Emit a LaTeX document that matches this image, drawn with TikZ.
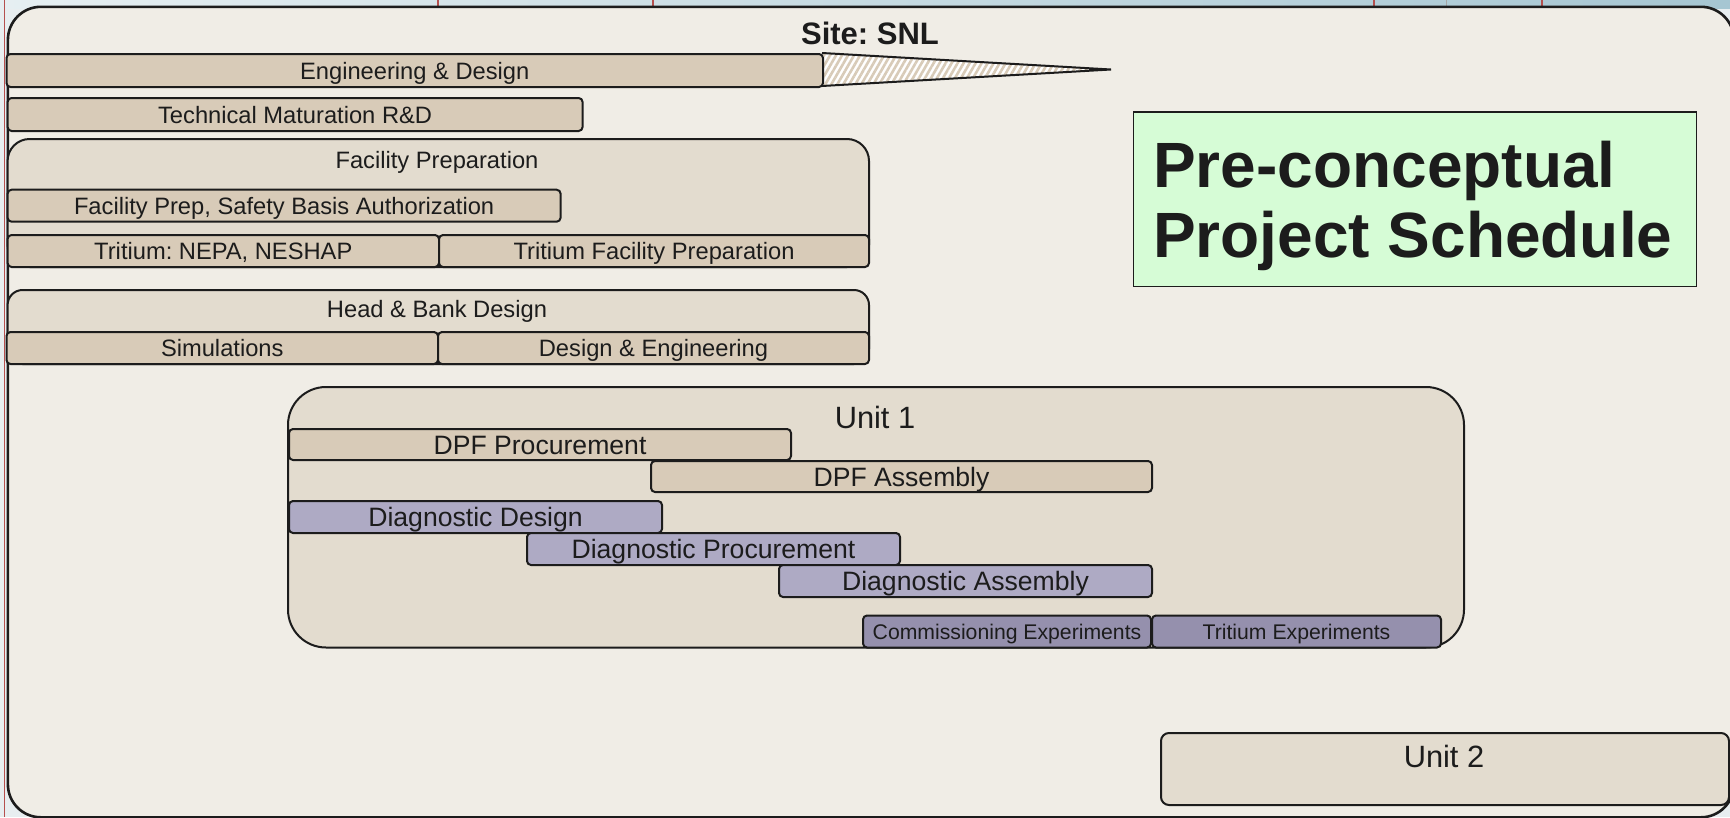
\documentclass[tikz,border=0pt]{standalone}
\usepackage{fontspec}
\setmainfont{Liberation Sans}
\usetikzlibrary{patterns.meta}
\definecolor{pagebg}{HTML}{E8EEF0}
\definecolor{outerfill}{HTML}{F0EDE6}
\definecolor{groupfill}{HTML}{E3DCCF}
\definecolor{tanbar}{HTML}{D8CBB8}
\definecolor{lavbar}{HTML}{AEAAC4}
\definecolor{purpbar}{HTML}{9590AD}
\definecolor{greenbox}{HTML}{D6FCD6}
\definecolor{ink}{HTML}{1C1C1C}
\definecolor{redline}{HTML}{B5504E}
\definecolor{stripL}{HTML}{E6EFF2}
\definecolor{stripR}{HTML}{A6C6D2}
\frenchspacing
\tikzset{
  barbase/.style={draw=ink, line width=2pt, rounded corners=4pt, anchor=north west,
    inner sep=0pt, text=ink, text depth=0pt},
  tbar/.style={barbase, fill=tanbar, text height=17pt, font=\fontsize{23.7}{28}\selectfont},
  ubar/.style={barbase, fill=tanbar, text height=19pt, font=\fontsize{26.6}{30}\selectfont},
  lbar/.style={barbase, fill=lavbar, text height=19pt, font=\fontsize{26.6}{30}\selectfont},
  pbar/.style={barbase, fill=purpbar, text height=15.2pt, font=\fontsize{21.2}{25}\selectfont},
  grp/.style={draw=ink, line width=2pt, fill=groupfill, anchor=north west, inner sep=0pt},
  grptitle/.style={text=ink, inner sep=0pt, text height=17pt, text depth=0pt, font=\fontsize{23.7}{28}\selectfont},
  unittitle/.style={text=ink, inner sep=0pt, text height=22pt, text depth=0pt, font=\fontsize{30.8}{34}\selectfont},
}
\begin{document}
\frenchspacing
\begin{tikzpicture}[x=1pt, y=-1pt]
\useasboundingbox (0,0) rectangle (1730,817);
\fill[pagebg] (0,0) rectangle (1730,817);
\shade[left color=stripL, right color=stripR] (0,0) rectangle (1730,8);
\foreach \xx in {438,653,1374,1542} \draw[redline, line width=1.2pt] (\xx,0) -- (\xx,8);
\draw[gray!70, line width=1pt] (1446,0) -- (1446,8);
\draw[redline, line width=1.6pt] (4.5,0) -- (4.5,817);
% outer box
\node[draw=ink, line width=2.6pt, fill=outerfill, rounded corners=33pt, anchor=north west,
  inner sep=0pt, minimum width=1726pt, minimum height=810.5pt] (outer) at (6.6,5.5) {};
\node[text=ink, inner sep=0pt, text height=22.2pt, text depth=0pt,
  font=\bfseries\fontsize{31}{34}\selectfont] (site) at (870,33) {Site: SNL};
% engineering & design with hatched tail
\coordinate (tip) at (1111,69.5);
\coordinate (tailtop) at (822,53);
\coordinate (tailbot) at (822,86);
\fill[white] (tailtop) -- (tip) -- (tailbot) -- cycle;
\path[pattern={Lines[angle=60,distance=5.2pt,line width=2.6pt]}, pattern color=tanbar]
  (tailtop) -- (tip) -- (tailbot) -- cycle;
\draw[ink, line width=2pt, line join=miter] (tailtop) -- (tip) -- (tailbot);
\node[tbar, minimum width=816.5pt, minimum height=33pt] (eng) at (5.5,53) {Engineering \& Design};
\node[tbar, minimum width=575pt, minimum height=33pt] (tech) at (6.6,97) {Technical Maturation R\&D};
% facility preparation group
\node[grp, rounded corners=22pt, minimum width=861.4pt, minimum height=128pt] (fp) at (6.6,138) {};
\node[grptitle] (fptitle) at (437,160) {Facility Preparation};
\node[tbar, minimum width=553pt, minimum height=32pt] (fpsba) at (6.6,188.7) {Facility Prep, Safety Basis Authorization};
\node[tbar, minimum width=431.4pt, minimum height=32pt] (nepa) at (6.6,234) {Tritium: NEPA, NESHAP};
\node[tbar, minimum width=430pt, minimum height=32pt] (tfp) at (438,234) {Tritium Facility Preparation};
% head & bank group
\node[grp, rounded corners=15pt, minimum width=861.4pt, minimum height=74pt] (hb) at (6.6,289) {};
\node[grptitle] (hbtitle) at (437,309) {Head \& Bank Design};
\node[tbar, minimum width=431.5pt, minimum height=32pt] (sim) at (5.5,331) {Simulations};
\node[tbar, minimum width=431pt, minimum height=32pt] (de) at (437,331) {Design \& Engineering};
% unit 1
\node[grp, rounded corners=38pt, minimum width=1176pt, minimum height=260.5pt] (u1) at (287,386) {};
\node[unittitle] (u1title) at (875,417) {Unit 1};
\node[ubar, minimum width=502pt, minimum height=31pt] (dpfp) at (288,428) {DPF Procurement};
\node[ubar, minimum width=501pt, minimum height=31pt] (dpfa) at (650,460) {DPF Assembly};
\node[lbar, minimum width=373pt, minimum height=32pt] (dd) at (288,500) {Diagnostic Design};
\node[lbar, minimum width=373pt, minimum height=32pt] (dp) at (526,532) {Diagnostic Procurement};
\node[lbar, minimum width=373pt, minimum height=32pt] (da) at (778,564) {Diagnostic Assembly};
\node[pbar, minimum width=288pt, minimum height=32pt] (ce) at (862,614.5) {Commissioning Experiments};
\node[pbar, minimum width=289pt, minimum height=32pt] (te) at (1151,614.5) {Tritium Experiments};
% unit 2
\node[grp, rounded corners=8pt, minimum width=568pt, minimum height=72pt] (u2) at (1160,732) {};
\node[unittitle] (u2title) at (1444,756) {Unit 2};
% title box
\node[draw=ink, line width=1.3pt, fill=greenbox, anchor=north west, inner sep=0pt,
  minimum width=563pt, minimum height=174.4pt] (tbox) at (1133,111.4) {};
\node[anchor=north west, inner sep=0pt, align=left, text=ink,
  font=\bfseries\fontsize{64}{70}\selectfont] (ttext) at (1153,141) {Pre-conceptual\\Project Schedule};
\end{tikzpicture}
\end{document}
